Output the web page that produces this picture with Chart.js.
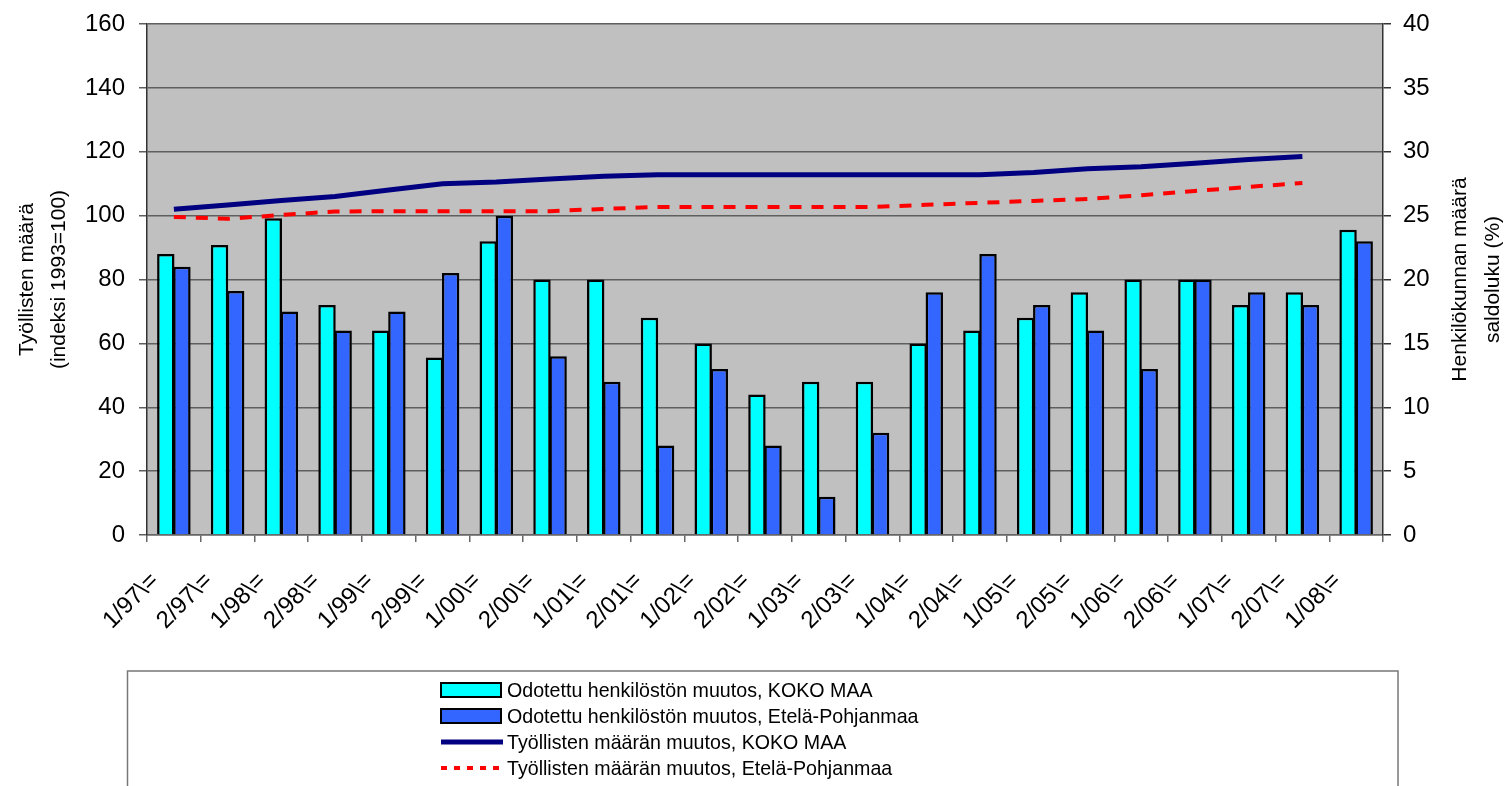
<!DOCTYPE html>
<html>
<head>
<meta charset="utf-8">
<script src="https://cdn.jsdelivr.net/npm/chart.js@4.4.1/dist/chart.umd.min.js"></script>
<style>
  html, body { margin: 0; padding: 0; background: #fff; }
  canvas { display: block; }
</style>
</head>
<body>
<canvas id="chart" width="1509" height="786"></canvas>
<script>
// Kaudet (x-akseli)
const periods = ['1/97\\=', '2/97\\=', '1/98\\=', '2/98\\=', '1/99\\=', '2/99\\=', '1/00\\=', '2/00\\=',
  '1/01\\=', '2/01\\=', '1/02\\=', '2/02\\=', '1/03\\=', '2/03\\=', '1/04\\=', '2/04\\=',
  '1/05\\=', '2/05\\=', '1/06\\=', '2/06\\=', '1/07\\=', '2/07\\=', '1/08\\='];

// Odotettu henkilöstön muutos, saldoluku % (oikea akseli)
const saldoKokoMaa = [22, 22.7, 24.8, 18, 16, 13.9, 23, 20, 20, 17, 15, 11, 12, 12, 15, 16, 17, 19, 20, 20, 18, 19, 23.9];
const saldoEtelaPohjanmaa = [21, 19.1, 17.5, 16, 17.5, 20.5, 25, 14, 12, 7, 13, 7, 3, 8, 19, 22, 18, 16, 13, 20, 19, 18, 23];

// Työllisten määrä, indeksi 1993=100 (vasen akseli)
const tyollisetKokoMaa = [102, 103.3, 104.7, 106, 108, 110, 110.5, 111.5, 112.3, 112.8, 112.8, 112.8, 112.8, 112.8, 112.8, 112.8, 113.5, 114.7, 115.3, 116.4, 117.6, 118.5, null];
const tyollisetEtelaPohjanmaa = [99.6, 99.0, 100.2, 101.3, 101.4, 101.4, 101.4, 101.4, 102.1, 102.7, 102.7, 102.7, 102.7, 102.7, 103.4, 104, 104.6, 105.2, 106.4, 107.7, 109, 110.2, null];

const leftTicks = [0, 160, 20];
const rightTicks = [0, 40, 5];

const FONT = "'Liberation Sans', Arial, sans-serif";

// harmaa piirtoalue
const plotBackground = {
    id: 'plotBackground',
    beforeDraw(chart) {
        const { ctx, chartArea: a } = chart;
        ctx.save();
        ctx.fillStyle = '#c0c0c0';
        ctx.fillRect(a.left, a.top, a.right - a.left, a.bottom - a.top);
        ctx.restore();
    }
};

// akselien otsikot ja selite
const titlesAndLegend = {
    id: 'titlesAndLegend',
    afterDraw(chart) {
        const { ctx, chartArea: a } = chart;
        const midY = (a.top + a.bottom) / 2;
        ctx.save();
        ctx.fillStyle = '#000';
        ctx.font = '21px ' + FONT;
        ctx.textAlign = 'center';
        ctx.textBaseline = 'middle';
        const drawV = (text, x) => {
            ctx.save();
            ctx.translate(x, midY);
            ctx.rotate(-Math.PI / 2);
            ctx.fillText(text, 0, 0);
            ctx.restore();
        };
        drawV('Työllisten määrä', 27);
        drawV('(indeksi 1993=100)', 59);
        drawV('Henkilökunnan määrä', 1460);
        drawV('saldoluku (%)', 1493);

        // selitelaatikko
        ctx.strokeStyle = '#777';
        ctx.lineWidth = 1.5;
        ctx.strokeRect(127.5, 671, 1270.5, 140);

        const ds = chart.data.datasets;
        const sx = 441, sw = 60, tx = 507;
        const rows = [690, 716, 742, 768];
        ds.forEach((d, i) => {
            const y = rows[i];
            if (d.type === 'bar') {
                ctx.fillStyle = d.backgroundColor;
                ctx.fillRect(sx, y - 7, sw, 14);
                ctx.strokeStyle = '#000';
                ctx.lineWidth = 2;
                ctx.strokeRect(sx, y - 7, sw, 14);
            } else {
                ctx.strokeStyle = d.borderColor;
                ctx.lineWidth = d.borderWidth;
                ctx.setLineDash(d.borderDash ? [6, 7] : []);
                ctx.beginPath();
                ctx.moveTo(sx, y);
                ctx.lineTo(sx + sw + 2, y);
                ctx.stroke();
                ctx.setLineDash([]);
            }
            // teksti hieman kavennettuna kuten alkuperäisessä
            ctx.save();
            ctx.translate(tx, y + 1);
            ctx.scale(0.935, 1);
            ctx.font = '21px ' + FONT;
            ctx.textAlign = 'left';
            ctx.fillStyle = '#000';
            ctx.fillText(d.label, 0, 0);
            ctx.restore();
        });
        ctx.restore();
    }
};

const barCommon = {
    type: 'bar',
    yAxisID: 'y1',
    borderColor: '#000',
    borderWidth: 2.5,
    categoryPercentage: 0.6,
    barPercentage: 1.08,
    order: 2
};

new Chart(document.getElementById('chart'), {
    data: {
        labels: periods,
        datasets: [{
            ...barCommon,
            label: 'Odotettu henkilöstön muutos, KOKO MAA',
            data: saldoKokoMaa,
            backgroundColor: '#00ffff'
        }, {
            ...barCommon,
            label: 'Odotettu henkilöstön muutos, Etelä-Pohjanmaa',
            data: saldoEtelaPohjanmaa,
            backgroundColor: '#3366ff'
        }, {
            type: 'line',
            label: 'Työllisten määrän muutos, KOKO MAA',
            data: tyollisetKokoMaa,
            yAxisID: 'y',
            borderColor: '#000080',
            borderWidth: 5,
            pointRadius: 0,
            tension: 0,
            fill: false,
            order: 1
        }, {
            type: 'line',
            label: 'Työllisten määrän muutos, Etelä-Pohjanmaa',
            data: tyollisetEtelaPohjanmaa,
            yAxisID: 'y',
            borderColor: '#ff0000',
            borderWidth: 4,
            borderDash: [12, 10],
            pointRadius: 0,
            tension: 0,
            fill: false,
            order: 0
        }]
    },
    options: {
        responsive: false,
        animation: false,
        layout: { padding: { left: 0, right: 0, top: 24, bottom: 131 } },
        plugins: {
            legend: { display: false },
            tooltip: { enabled: false }
        },
        scales: {
            x: {
                grid: { display: true, drawOnChartArea: false, offset: true, tickLength: 7, color: '#666', lineWidth: 1.5 },
                border: { display: true, color: '#666', width: 1.5 },
                ticks: {
                    autoSkip: false, minRotation: 45, maxRotation: 45,
                    labelOffset: -19, padding: 25,
                    color: '#000', font: { family: FONT, size: 24 }
                },
                afterFit(scale) { scale.height = 120; }
            },
            y: {
                position: 'left',
                min: leftTicks[0], max: leftTicks[1],
                ticks: { stepSize: leftTicks[2], padding: 14, color: '#000', font: { family: FONT, size: 24, lineHeight: 0.8 } },
                grid: { color: '#5f5f5f', lineWidth: 1.5, tickLength: 8 },
                border: { display: true, color: '#333', width: 1.5 },
                afterFit(scale) { scale.width = 147; }
            },
            y1: {
                position: 'right',
                min: rightTicks[0], max: rightTicks[1],
                ticks: { stepSize: rightTicks[2], padding: 12, color: '#000', font: { family: FONT, size: 24, lineHeight: 0.8 } },
                grid: { drawOnChartArea: false, color: '#333', lineWidth: 1.5, tickLength: 8 },
                border: { display: true, color: '#333', width: 1.5 },
                afterFit(scale) { scale.width = 126; }
            }
        }
    },
    plugins: [plotBackground, titlesAndLegend]
});
</script>
</body>
</html>
